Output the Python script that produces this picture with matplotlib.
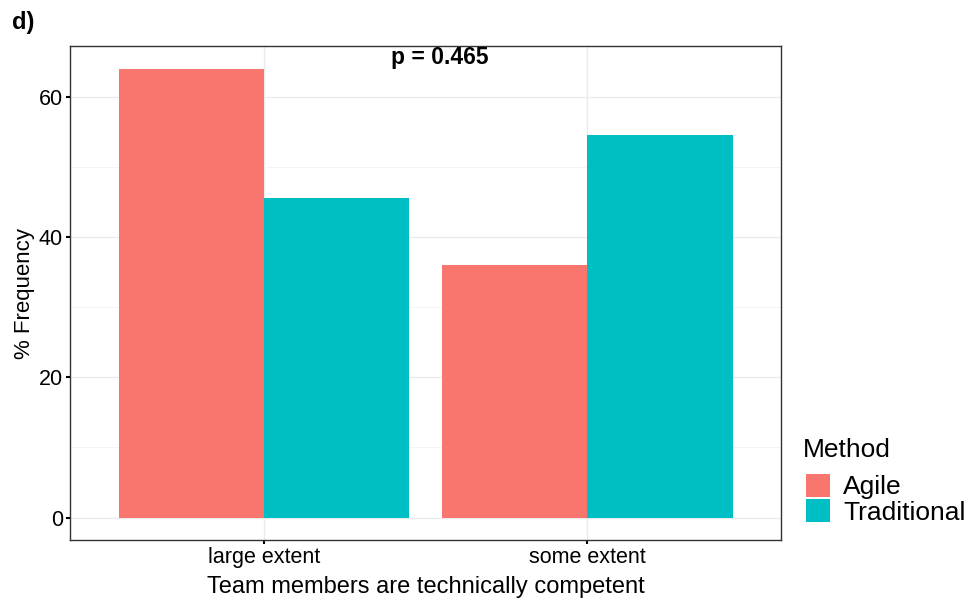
import numpy as np
import matplotlib.pyplot as plt
from matplotlib.patches import Patch

plt.rcParams['font.family'] = ['Liberation Sans', 'DejaVu Sans']

# data
categories = ['large extent', 'some extent']
methods = ['Agile', 'Traditional']
agile = [64.0, 36.0]
traditional = [45.5, 54.5]
colors = ['#F8766D', '#00BFC4']

fig = plt.figure(figsize=(9.7, 5.99), dpi=100)
ax = fig.add_axes([0.0722, 0.0985, 0.733, 0.8245])

x = np.arange(len(categories))
w = 0.45
ax.bar(x - w / 2, agile, width=w, color=colors[0], zorder=2)
ax.bar(x + w / 2, traditional, width=w, color=colors[1], zorder=2)

ax.set_xlim(-0.6, 1.6)
ax.set_ylim(-3.2, 67.2)
ax.set_yticks([0, 20, 40, 60])
ax.set_yticks([10, 30, 50], minor=True)
ax.set_xticks(x)
ax.set_xticklabels(categories)
ax.grid(True, which='major', color='#EBEBEB', linewidth=1.0, zorder=0)
ax.grid(True, which='minor', axis='y', color='#F3F3F3', linewidth=0.6, zorder=0)
ax.tick_params(which='minor', length=0)
ax.tick_params(which='major', length=3, width=1.5, color='black', labelsize=15.5, pad=2)
for s in ax.spines.values():
    s.set_color('#333333')
    s.set_linewidth(1.0)

ax.set_xlabel('Team members are technically competent', fontsize=17, labelpad=6)
ax.set_ylabel('% Frequency', fontsize=16, labelpad=3)

ax.text(0.545, 65.6, 'p = 0.465', ha='center', va='center', fontsize=16.5, fontweight='bold')
fig.text(0.012, 0.962, 'd)', fontsize=17, fontweight='bold', ha='left', va='center')

# legend: title drawn on its own, keys below
fig.text(803 / 970, 1 - 450 / 599, 'Method', fontsize=19, ha='left', va='center')
handles = [Patch(facecolor=c, edgecolor='none') for c in colors]
leg = fig.legend(handles, methods, loc='upper left',
                 bbox_to_anchor=(806 / 970, 1 - 474 / 599), frameon=False, fontsize=19,
                 handlelength=0.9, handleheight=0.95, handletextpad=0.5,
                 labelspacing=0.0, borderpad=0.0, borderaxespad=0.0)

fig.savefig('out.png', dpi=100)
